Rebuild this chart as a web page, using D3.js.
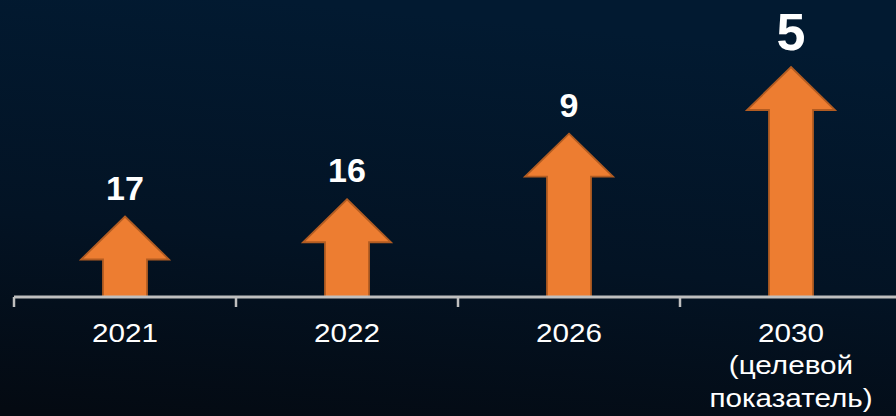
<!DOCTYPE html>
<html><head><meta charset="utf-8">
<script src="https://cdn.jsdelivr.net/npm/d3@7"></script>
<style>html,body{margin:0;padding:0;background:#020d1a;}svg{display:block;}</style>
</head><body>
<svg id="c" width="896" height="416"></svg>
<script>
const categories = ["2021", "2022", "2026", "2030"];
const subLabels = [[], [], [], ["(целевой", "показатель)"]];
const valueLabels = ["17", "16", "9", "5"];
const arrowHeights = [35, 42.5, 71, 100];   // relative arrow length, % of tallest

const W = 896, H = 416;
const svg = d3.select("#c");
const defs = svg.append("defs");
const g = defs.append("linearGradient").attr("id","bg").attr("x1","0.3").attr("y1","0").attr("x2","0.1").attr("y2","1");
g.append("stop").attr("offset","0").attr("stop-color","#021a31");
g.append("stop").attr("offset","0.55").attr("stop-color","#031324");
g.append("stop").attr("offset","1").attr("stop-color","#040a12");
svg.append("rect").attr("width",W).attr("height",H).attr("fill","url(#bg)");

const baseY = 297;
const x = d3.scaleBand().domain(categories).range([14, 902]).padding(0);
const y = d3.scaleLinear().domain([0, 100]).range([baseY, 67]);

// arrows
const shaftW = 44, headW = 88, headH = 43;
svg.append("g").selectAll("path").data(categories).join("path")
  .attr("d", (c, i) => {
    const cx = x(c) + x.bandwidth() / 2;
    const top = y(arrowHeights[i]);
    const hb = top + headH;
    return `M${cx},${top} L${cx + headW/2},${hb} L${cx + shaftW/2},${hb} L${cx + shaftW/2},${baseY} L${cx - shaftW/2},${baseY} L${cx - shaftW/2},${hb} L${cx - headW/2},${hb} Z`;
  })
  .attr("fill", "#ed7d31").attr("stroke", "#b25c22").attr("stroke-width", 1.8).attr("stroke-linejoin","miter");

// axis
const ag = svg.append("g").attr("transform", `translate(0,${baseY})`);
ag.append("line").attr("x1", 14).attr("x2", W).attr("y1", 0).attr("y2", 0)
  .attr("stroke", "#bfbfbf").attr("stroke-width", 3);
const tickPos = x.domain().map(d => x(d));
ag.selectAll("line.tk").data(tickPos).join("line").attr("class","tk")
  .attr("x1", d => d).attr("x2", d => d).attr("y1", 0).attr("y2", 10)
  .attr("stroke", "#bfbfbf").attr("stroke-width", 2.5);

// category labels
const lab = svg.append("g").selectAll("text").data(categories).join("text")
  .attr("transform", d => `translate(${x(d) + x.bandwidth() / 2},342) scale(1.12,1)`)
  .attr("text-anchor", "middle")
  .attr("fill", "#ffffff")
  .attr("font-family", "'Liberation Sans', Arial, sans-serif")
  .attr("font-size", 26.5);
lab.each(function(d, i) {
  const t = d3.select(this);
  t.append("tspan").attr("x", 0).text(d);
  subLabels[i].forEach(s => t.append("tspan").attr("x", 0).attr("dy", 32.5).text(s));
});

// value labels
svg.append("g").selectAll("text").data(valueLabels).join("text")
  .attr("x", (d, i) => x(categories[i]) + x.bandwidth() / 2)
  .attr("y", (d, i) => y(arrowHeights[i]) - 17)
  .attr("text-anchor", "middle")
  .attr("fill", "#ffffff")
  .attr("font-family", "'Liberation Sans', Arial, sans-serif")
  .attr("font-weight", "bold")
  .attr("font-size", (d, i) => i === valueLabels.length - 1 ? 52 : 34)
  .text(d => d);
</script>
</body></html>
